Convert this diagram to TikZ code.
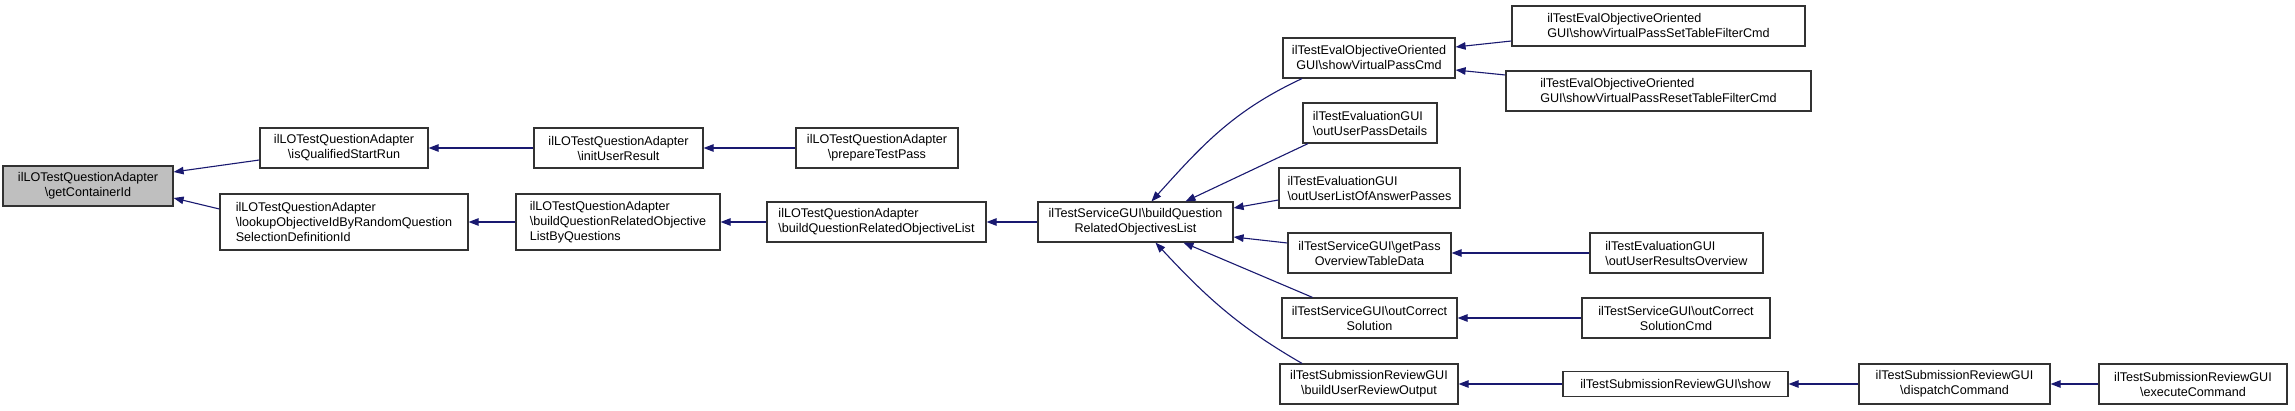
\documentclass[tikz,border=0pt]{standalone}
\usepackage{fontspec}
\setmainfont{Liberation Sans}
\usetikzlibrary{arrows.meta}
\definecolor{edgeblue}{RGB}{25,25,112}
\definecolor{boxline}{RGB}{50,50,50}
\definecolor{hlfill}{RGB}{191,191,191}
\begin{document}
\begin{tikzpicture}[x=1pt,y=-1pt,
  box/.style={draw=boxline, line width=1.2pt, fill=white, inner sep=0pt, minimum height=40pt,
    font=\fontsize{12.6}{15}\selectfont, align=center},
  lbox/.style={box, align=left},
  edge/.style={draw=edgeblue, line width=1.1pt, {Triangle[length=10pt,width=7.5pt]}-}]
\useasboundingbox (0,0) rectangle (2295,411);
% rank 0
\node[box, fill=hlfill, minimum width=170pt] (gcid) at (88,186) {ilLOTestQuestionAdapter\\\textbackslash getContainerId};
% rank 1
\node[box, minimum width=168pt] (isq) at (344,148) {ilLOTestQuestionAdapter\\\textbackslash isQualifiedStartRun};
\node[lbox, minimum width=248pt, minimum height=56pt] (lookup) at (344,222) {ilLOTestQuestionAdapter\\\textbackslash lookupObjectiveIdByRandomQuestion\\SelectionDefinitionId};
% rank 2
\node[box, minimum width=169pt] (initur) at (618.5,148) {ilLOTestQuestionAdapter\\\textbackslash initUserResult};
\node[lbox, minimum width=204pt, minimum height=56pt] (bqrolbq) at (618,222) {ilLOTestQuestionAdapter\\\textbackslash buildQuestionRelatedObjective\\ListByQuestions};
% rank 3
\node[box, minimum width=162pt] (preptp) at (877,148) {ilLOTestQuestionAdapter\\\textbackslash prepareTestPass};
\node[lbox, minimum width=219pt] (bqrol) at (876.5,222) {ilLOTestQuestionAdapter\\\textbackslash buildQuestionRelatedObjectiveList};
% rank 4
\node[box, minimum width=195pt] (bqros) at (1135.5,222) {ilTestServiceGUI\textbackslash buildQuestion\\RelatedObjectivesList};
% rank 5
\node[box, minimum width=172pt] (showvpc) at (1369,58) {ilTestEvalObjectiveOriented\\GUI\textbackslash showVirtualPassCmd};
\node[lbox, minimum width=134pt] (outupd) at (1370,123) {ilTestEvaluationGUI\\\textbackslash outUserPassDetails};
\node[lbox, minimum width=181pt] (outulap) at (1369.5,188) {ilTestEvaluationGUI\\\textbackslash outUserListOfAnswerPasses};
\node[box, minimum width=163pt] (getpotd) at (1369.5,253) {ilTestServiceGUI\textbackslash getPass\\OverviewTableData};
\node[box, minimum width=175pt] (outcs) at (1369.5,318) {ilTestServiceGUI\textbackslash outCorrect\\Solution};
\node[box, minimum width=178pt] (builduro) at (1369,384) {ilTestSubmissionReviewGUI\\\textbackslash buildUserReviewOutput};
% rank 6
\node[lbox, minimum width=293pt] (settf) at (1658.5,26) {ilTestEvalObjectiveOriented\\GUI\textbackslash showVirtualPassSetTableFilterCmd};
\node[lbox, minimum width=305pt] (resettf) at (1658.5,91) {ilTestEvalObjectiveOriented\\GUI\textbackslash showVirtualPassResetTableFilterCmd};
\node[lbox, minimum width=173pt] (outuro) at (1676.5,253) {ilTestEvaluationGUI\\\textbackslash outUserResultsOverview};
\node[box, minimum width=188pt] (outcsc) at (1676,318) {ilTestServiceGUI\textbackslash outCorrect\\SolutionCmd};
\node[box, minimum width=225pt, minimum height=25pt] (show) at (1675.5,384) {ilTestSubmissionReviewGUI\textbackslash show};
% rank 7, 8
\node[box, minimum width=191pt] (dispatch) at (1954.5,384) {ilTestSubmissionReviewGUI\\\textbackslash dispatchCommand};
\node[box, minimum width=188pt] (execute) at (2193,384) {ilTestSubmissionReviewGUI\\\textbackslash executeCommand};
% edges (arrow at callee)
\draw[edge] ([yshift=14pt]gcid.east) -- ([yshift=-12pt]isq.west);
\draw[edge] ([yshift=-12pt]gcid.east) -- ([yshift=13pt]lookup.west);
\draw[edge] (isq.east) -- (initur.west);
\draw[edge] (initur.east) -- (preptp.west);
\draw[edge] (lookup.east) -- (bqrolbq.west);
\draw[edge] (bqrolbq.east) -- (bqrol.west);
\draw[edge] (bqrol.east) -- (bqros.west);
\draw[edge] ([xshift=16pt]bqros.north) to[out=48, in=205] ([xshift=-67pt]showvpc.south);
\draw[edge] ([xshift=50pt]bqros.north) -- ([xshift=-62pt]outupd.south);
\draw[edge] ([yshift=14pt]bqros.east) -- ([yshift=-12pt]outulap.west);
\draw[edge] ([yshift=-15pt]bqros.east) -- ([yshift=10pt]getpotd.west);
\draw[edge] ([xshift=48pt]bqros.south) -- ([xshift=-57pt]outcs.north);
\draw[edge] ([xshift=20pt]bqros.south) to[out=-47, in=150] ([xshift=-67pt]builduro.north);
\draw[edge] ([yshift=11pt]showvpc.east) -- ([yshift=-15pt]settf.west);
\draw[edge] ([yshift=-12pt]showvpc.east) -- ([yshift=16pt]resettf.west);
\draw[edge] (getpotd.east) -- (outuro.west);
\draw[edge] (outcs.east) -- (outcsc.west);
\draw[edge] (builduro.east) -- (show.west);
\draw[edge] (show.east) -- (dispatch.west);
\draw[edge] (dispatch.east) -- (execute.west);
\end{tikzpicture}
\end{document}
